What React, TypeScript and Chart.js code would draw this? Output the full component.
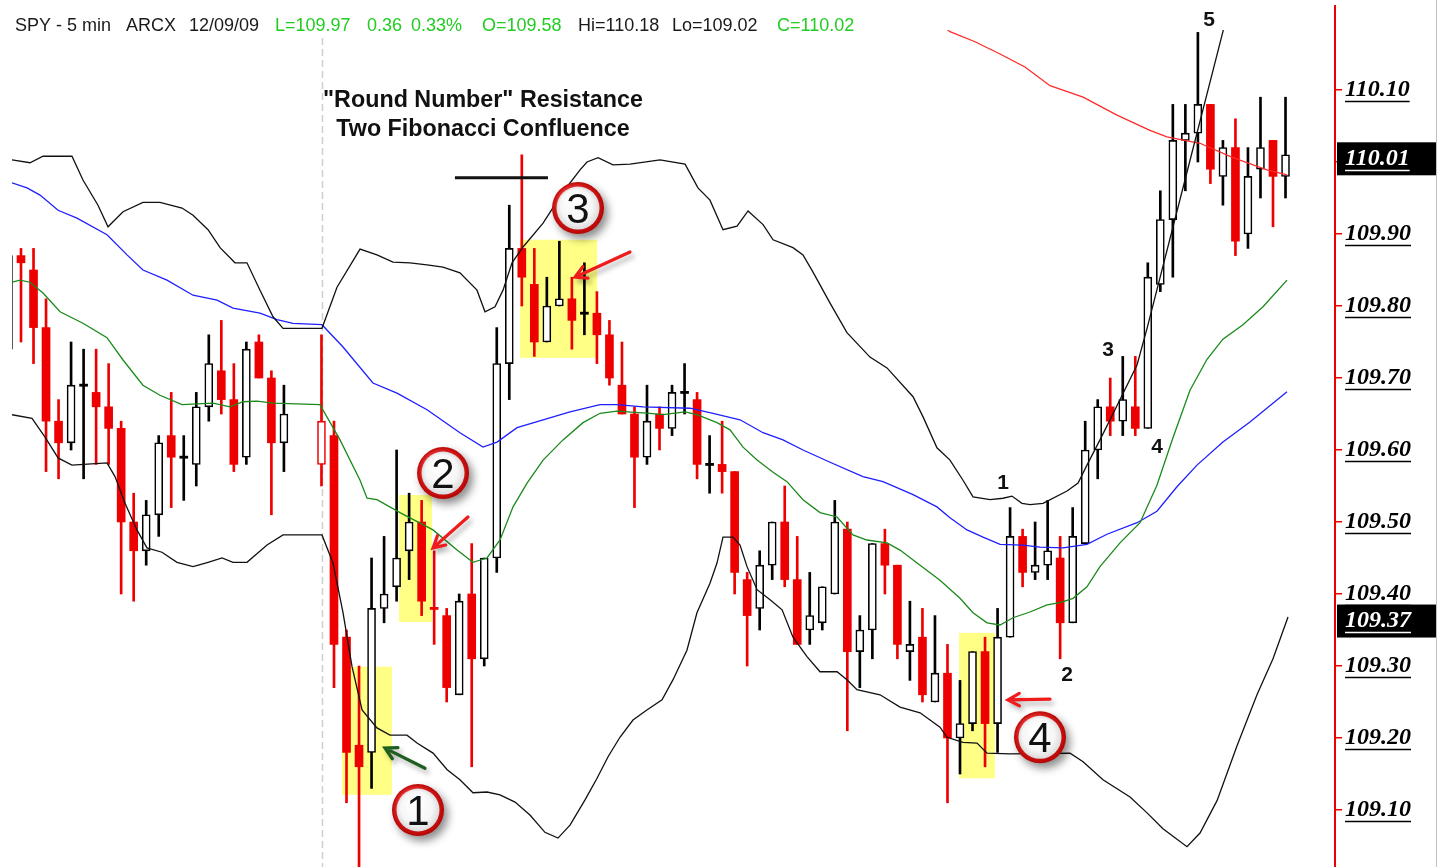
import React, { useEffect, useRef } from "react";
import { Chart, registerables } from "chart.js";

Chart.register(...registerables);

// ---------- candle data (slot index = array index, 5-min bars) ----------
const opens: (number | null)[] = [
  109.74, 109.87, 109.85, 109.77, 109.64, 109.61, 109.69, 109.68, 109.66, 109.63,
  109.50, 109.46, 109.51, 109.62, 109.59, 109.58, 109.66, 109.71, 109.67, 109.59,
  109.75, 109.70, 109.61, null, null, 109.58, 109.62, 109.34, 109.19, 109.18,
  109.38, 109.41, 109.46, 109.50, 109.38, 109.37, 109.26, 109.40, 109.31, 109.45,
  109.72, 109.88, 109.83, 109.75, 109.80, 109.81, 109.79, 109.79, 109.76, 109.69,
  109.65, 109.59, 109.65, 109.63, 109.68, 109.67, 109.58, 109.58, 109.57, 109.42,
  109.38, 109.44, 109.50, 109.42, 109.35, 109.36, 109.40, 109.49, 109.32, 109.35,
  109.47, 109.44, 109.32, 109.34, 109.25, 109.29, 109.20, 109.22, 109.32, 109.22,
  109.34, 109.48, 109.43, 109.44, 109.45, 109.36, 109.47, 109.60, 109.66, 109.64,
  109.66, 109.63, 109.83, 109.92, 110.03, 110.04, 110.08, 109.98, 110.02, 109.90,
  109.99, 110.03, 109.98,
];
const highs: (number | null)[] = [
  109.87, 109.88, 109.88, 109.81, 109.67, 109.75, 109.74, 109.74, 109.72, 109.64,
  109.54, 109.53, 109.62, 109.68, 109.62, 109.68, 109.76, 109.78, 109.72, 109.75,
  109.76, 109.71, 109.69, null, null, 109.76, 109.64, 109.35, 109.30, 109.45,
  109.48, 109.60, 109.54, 109.53, 109.46, 109.38, 109.40, 109.47, 109.45, 109.77,
  109.94, 110.01, 109.88, 109.84, 109.89, 109.84, 109.86, 109.82, 109.78, 109.75,
  109.66, 109.69, 109.66, 109.69, 109.72, 109.68, 109.62, 109.64, 109.57, 109.43,
  109.46, 109.50, 109.55, 109.48, 109.43, 109.41, 109.53, 109.50, 109.37, 109.47,
  109.49, 109.44, 109.39, 109.38, 109.37, 109.33, 109.28, 109.32, 109.34, 109.38,
  109.52, 109.49, 109.50, 109.53, 109.48, 109.52, 109.64, 109.67, 109.70, 109.73,
  109.73, 109.86, 109.96, 110.08, 110.08, 110.18, 110.08, 110.03, 110.06, 110.02,
  110.09, 110.03, 110.09,
];
const lows: (number | null)[] = [
  109.74, 109.75, 109.72, 109.57, 109.56, 109.60, 109.56, 109.58, 109.58, 109.40,
  109.39, 109.44, 109.48, 109.52, 109.53, 109.55, 109.64, 109.65, 109.57, 109.58,
  109.70, 109.51, 109.57, null, null, 109.55, 109.27, 109.11, 109.02, 109.13,
  109.36, 109.39, 109.42, 109.37, 109.33, 109.25, 109.26, 109.16, 109.30, 109.43,
  109.67, 109.80, 109.73, 109.75, 109.80, 109.74, 109.76, 109.72, 109.69, 109.65,
  109.52, 109.58, 109.60, 109.62, 109.65, 109.56, 109.54, 109.54, 109.40, 109.30,
  109.35, 109.42, 109.41, 109.33, 109.33, 109.35, 109.40, 109.21, 109.27, 109.31,
  109.40, 109.31, 109.28, 109.25, 109.25, 109.11, 109.15, 109.21, 109.16, 109.18,
  109.34, 109.41, 109.42, 109.42, 109.31, 109.36, 109.47, 109.56, 109.62, 109.62,
  109.62, 109.63, 109.82, 109.84, 109.96, 110.00, 109.97, 109.94, 109.87, 109.88,
  109.95, 109.91, 109.95,
];
const closes: (number | null)[] = [
  109.87, 109.86, 109.77, 109.64, 109.61, 109.69, 109.69, 109.66, 109.63, 109.50,
  109.46, 109.51, 109.61, 109.59, 109.59, 109.66, 109.72, 109.67, 109.58, 109.74,
  109.70, 109.61, 109.65, null, null, 109.64, 109.33, 109.18, 109.16, 109.38,
  109.40, 109.45, 109.50, 109.39, 109.38, 109.27, 109.39, 109.31, 109.45, 109.72,
  109.88, 109.84, 109.75, 109.80, 109.81, 109.78, 109.79, 109.76, 109.70, 109.65,
  109.59, 109.64, 109.63, 109.68, 109.68, 109.58, 109.58, 109.57, 109.43, 109.37,
  109.44, 109.50, 109.42, 109.33, 109.37, 109.41, 109.50, 109.32, 109.35, 109.47,
  109.44, 109.33, 109.33, 109.26, 109.29, 109.20, 109.22, 109.32, 109.22, 109.34,
  109.48, 109.43, 109.44, 109.46, 109.36, 109.48, 109.60, 109.66, 109.64, 109.67,
  109.63, 109.84, 109.92, 110.03, 110.04, 110.08, 109.99, 110.02, 109.89, 109.98,
  110.02, 109.98, 110.01,
];
// k = black (close above previous close), r = red (close below previous close)
const candleColors = [
  "krrrrkkrrr", "rkkrkkkrrk", "rrk--rrrrk", "kkkrrrkrkk", "krrkkrkrrr",
  "rkrkkrkrrr", "kkrrkkkrkk", "rrkrkrkkrk", "krkkrkkkrk", "rkkkkkrkrk", "krk",
].join("");

// ---------- indicator lines: [slot, price] ----------
const bbUpper = [
  [0.28, 110.003], [1.72, 109.999], [2.76, 110.008], [5.07, 110.008], [5.95, 109.975],
  [7.15, 109.94], [7.95, 109.91], [9.15, 109.931], [10.74, 109.944], [12.1, 109.944],
  [13.86, 109.936], [14.74, 109.926], [15.94, 109.906], [16.9, 109.881], [18.09, 109.86],
  [19.05, 109.86], [20.09, 109.822], [21.13, 109.785], [21.93, 109.769], [25.04, 109.769],
  [26.24, 109.826], [28.08, 109.879], [29.43, 109.871], [30.71, 109.861], [32.07, 109.86],
  [33.43, 109.857], [34.71, 109.854], [36.06, 109.846], [37.42, 109.822], [38.06, 109.792],
  [38.86, 109.799], [39.5, 109.822], [40.22, 109.86], [41.1, 109.882], [42.7, 109.915],
  [44.29, 109.958], [45.65, 109.989], [46.21, 110.0], [47.09, 110.006], [48.28, 109.996],
  [49.64, 109.997], [52.04, 110.003], [54.04, 109.997], [55.07, 109.964], [56.03, 109.947],
  [57.07, 109.906], [58.19, 109.911], [59.07, 109.932], [60.27, 109.913], [61.07, 109.892],
  [62.66, 109.881], [63.46, 109.871], [64.26, 109.847], [65.62, 109.804], [66.97, 109.763],
  [68.81, 109.729], [70.17, 109.714], [72.25, 109.674], [73.05, 109.646], [74.16, 109.603],
  [75.2, 109.586], [76.24, 109.558], [77.04, 109.535], [78.4, 109.531], [79.44, 109.533],
  [80.15, 109.536], [80.95, 109.526], [81.59, 109.524], [82.63, 109.526], [84.55, 109.543],
  [85.43, 109.554], [86.14, 109.579], [87.18, 109.614], [88.38, 109.656], [90.14, 109.718],
  [90.94, 109.769], [93.97, 109.975], [97.0, 110.181], [97.96, 110.246],
];
const bbLower = [
  [0.28, 109.649], [1.88, 109.644], [2.92, 109.618], [3.96, 109.589], [5.07, 109.579],
  [7.87, 109.582], [8.51, 109.563], [9.31, 109.526], [10.26, 109.489], [11.06, 109.464],
  [12.26, 109.458], [13.46, 109.444], [14.74, 109.438], [15.94, 109.444], [17.06, 109.45],
  [17.93, 109.444], [19.05, 109.444], [20.65, 109.468], [21.93, 109.482], [25.04, 109.482],
  [25.92, 109.443], [26.72, 109.374], [27.44, 109.299], [28.24, 109.239], [29.43, 109.214],
  [30.47, 109.204], [31.83, 109.204], [32.63, 109.193], [33.91, 109.179], [35.04, 109.156],
  [36.06, 109.142], [37.1, 109.124], [38.22, 109.125], [39.26, 109.121], [40.46, 109.111],
  [41.65, 109.093], [42.85, 109.069], [43.89, 109.061], [44.85, 109.079], [46.05, 109.114],
  [47.01, 109.144], [47.89, 109.174], [48.84, 109.201], [49.88, 109.225], [50.99, 109.239],
  [52.2, 109.253], [53.08, 109.281], [54.19, 109.322], [54.99, 109.374], [56.03, 109.415],
  [56.59, 109.443], [57.07, 109.479], [57.87, 109.479], [58.43, 109.468], [58.99, 109.438],
  [59.79, 109.406], [60.83, 109.392], [61.79, 109.378], [62.66, 109.34], [63.78, 109.313],
  [64.82, 109.292], [66.18, 109.292], [66.97, 109.281], [67.77, 109.267], [69.61, 109.26],
  [71.21, 109.243], [72.81, 109.235], [74.4, 109.215], [74.96, 109.201], [76.24, 109.194],
  [77.36, 109.193], [78.16, 109.179], [79.99, 109.178], [84.79, 109.179], [85.83, 109.167],
  [87.42, 109.142], [89.58, 109.118], [90.94, 109.096], [92.21, 109.074], [94.13, 109.049],
  [95.17, 109.068], [96.53, 109.113], [98.12, 109.189], [99.72, 109.26], [101.0, 109.31],
  [102.2, 109.368],
];
const maGreen = [
  [0.28, 109.833], [0.92, 109.836], [1.72, 109.833], [2.76, 109.818], [4.12, 109.792],
  [5.95, 109.776], [7.87, 109.756], [9.15, 109.725], [10.74, 109.69], [12.1, 109.676],
  [13.86, 109.663], [16.34, 109.665], [17.69, 109.66], [18.73, 109.667], [19.85, 109.668],
  [21.13, 109.665], [24.88, 109.663], [26.48, 109.614], [28.08, 109.558], [28.64, 109.533],
  [29.43, 109.531], [31.27, 109.513], [33.91, 109.489], [35.83, 109.461], [37.1, 109.444],
  [38.22, 109.45], [39.26, 109.475], [40.3, 109.521], [41.42, 109.554], [42.7, 109.586],
  [44.29, 109.614], [45.89, 109.638], [47.25, 109.651], [48.6, 109.654], [51.24, 109.651],
  [52.28, 109.649], [54.04, 109.653], [54.99, 109.649], [56.59, 109.638], [57.63, 109.628],
  [58.67, 109.604], [59.79, 109.586], [61.07, 109.569], [62.18, 109.556], [63.46, 109.531],
  [64.82, 109.513], [66.18, 109.507], [67.45, 109.482], [68.57, 109.475], [70.17, 109.471],
  [71.21, 109.461], [72.81, 109.44], [74.4, 109.419], [76.0, 109.394], [77.04, 109.374],
  [78.16, 109.36], [79.2, 109.357], [80.23, 109.367], [81.59, 109.375], [82.95, 109.385],
  [83.99, 109.388], [85.03, 109.394], [86.14, 109.41], [87.18, 109.438], [88.78, 109.471],
  [90.38, 109.499], [91.73, 109.551], [93.01, 109.617], [94.37, 109.683], [95.73, 109.726],
  [97.0, 109.754], [98.6, 109.774], [100.2, 109.799], [102.12, 109.836],
];
const maBlue = [
  [0.28, 109.971], [1.48, 109.964], [2.52, 109.954], [3.96, 109.933], [5.47, 109.922],
  [7.87, 109.899], [9.47, 109.871], [10.74, 109.85], [12.66, 109.836], [14.74, 109.815],
  [16.66, 109.808], [17.93, 109.797], [20.09, 109.79], [21.45, 109.781], [22.72, 109.776],
  [25.04, 109.774], [26.72, 109.743], [29.11, 109.693], [31.03, 109.679], [33.43, 109.656],
  [36.06, 109.624], [37.9, 109.604], [39.02, 109.611], [40.62, 109.631], [42.7, 109.642],
  [44.85, 109.653], [47.25, 109.663], [48.6, 109.663], [50.68, 109.66], [54.43, 109.658],
  [56.27, 109.651], [58.43, 109.642], [60.27, 109.624], [61.86, 109.614], [63.46, 109.6],
  [65.62, 109.583], [68.25, 109.563], [69.85, 109.556], [72.25, 109.538], [74.16, 109.521],
  [75.2, 109.506], [76.56, 109.489], [77.84, 109.479], [79.2, 109.469], [81.03, 109.468],
  [82.39, 109.465], [84.23, 109.464], [86.14, 109.469], [87.74, 109.483], [90.14, 109.499],
  [91.73, 109.515], [93.33, 109.549], [94.93, 109.579], [97.0, 109.611], [99.16, 109.639],
  [102.12, 109.681],
];
const maRed = [
  [74.4, 110.192], [75.2, 110.181], [77.2, 110.167], [79.2, 110.15], [81.19, 110.132],
  [83.19, 110.106], [85.83, 110.09], [88.54, 110.065], [91.17, 110.044], [92.53, 110.035],
  [95.17, 110.026], [97.8, 110.006], [100.52, 109.989], [102.12, 109.982],
];

// ---------- axis ----------
const yTicks = [109.1, 109.2, 109.3, 109.4, 109.5, 109.6, 109.7, 109.8, 109.9, 110.0, 110.1];
const yMin = 109.02083;
const yMax = 110.18333;
const xMin = 0.2812;
const xMax = 105.952;

// ---------- annotations (data coordinates) ----------
const sessionBreak = 25.04;
const highlightBoxes = [
  [26.64, 30.63, 109.121, 109.299],
  [31.19, 33.83, 109.361, 109.5375],
  [40.86, 47.01, 109.728, 109.892],
  [75.92, 78.79, 109.144, 109.346],
];
const badges: [number, number, string][] = [
  [32.71, 109.1, "1"],
  [34.71, 109.568, "2"],
  [45.49, 109.936, "3"],
  [82.39, 109.201, "4"],
];
const arrows: [number, number, number, number, string][] = [
  [33.27, 109.158, 30.07, 109.186, "#1e5e1e"],
  [36.7, 109.507, 33.91, 109.464, "#ee1c1c"],
  [49.64, 109.875, 45.25, 109.84, "#ee1c1c"],
  [83.19, 109.254, 79.83, 109.253, "#ee1c1c"],
];
const waveLabels: [number, number, string][] = [
  [79.44, 109.554, "1"],
  [84.55, 109.2875, "2"],
  [87.82, 109.739, "3"],
  [91.74, 109.604, "4"],
  [95.89, 110.197, "5"],
];
const resistanceLine = [35.66, 43.09, 109.978];
const titleLines: [string, number, number][] = [
  ['"Round Number" Resistance', 37.9, 110.0764],
  ["Two Fibonacci Confluence", 37.9, 110.0361],
];
const headerParts: [string, number, string][] = [
  ["SPY - 5 min", 15, "#1a1a1a"],
  ["ARCX", 126, "#1a1a1a"],
  ["12/09/09", 189, "#1a1a1a"],
  ["L=109.97", 275, "#22cc22"],
  ["0.36", 367, "#22cc22"],
  ["0.33%", 411, "#22cc22"],
  ["O=109.58", 482, "#22cc22"],
  ["Hi=110.18", 578, "#1a1a1a"],
  ["Lo=109.02", 672, "#1a1a1a"],
  ["C=110.02", 777, "#22cc22"],
];

const RED = "#ee0000";
const BLACK = "#000000";
const SANS = '"Liberation Sans", Arial, sans-serif';
const SERIF = '"Liberation Serif", "Times New Roman", serif';
const TICK_SIZE = 24;

function toXY(pts: number[][]) {
  return pts.map(([s, p]) => ({ x: s, y: p }));
}

function drawArrow(ctx: CanvasRenderingContext2D, x1: number, y1: number, x2: number, y2: number, color: string) {
  const ang = Math.atan2(y2 - y1, x2 - x1);
  const len = 13;
  ctx.save();
  ctx.shadowColor = "rgba(0,0,0,0.3)";
  ctx.shadowBlur = 5;
  ctx.shadowOffsetX = 3;
  ctx.shadowOffsetY = 4;
  ctx.strokeStyle = color;
  ctx.lineWidth = 3.2;
  ctx.lineCap = "round";
  ctx.beginPath();
  ctx.moveTo(x1, y1);
  ctx.lineTo(x2, y2);
  ctx.moveTo(x2 + len * Math.cos(ang + Math.PI - 0.5), y2 + len * Math.sin(ang + Math.PI - 0.5));
  ctx.lineTo(x2, y2);
  ctx.lineTo(x2 + len * Math.cos(ang + Math.PI + 0.5), y2 + len * Math.sin(ang + Math.PI + 0.5));
  ctx.stroke();
  ctx.restore();
}

function drawBadge(ctx: CanvasRenderingContext2D, cx: number, cy: number, label: string) {
  ctx.save();
  ctx.shadowColor = "rgba(0,0,0,0.45)";
  ctx.shadowBlur = 9;
  ctx.shadowOffsetX = 4;
  ctx.shadowOffsetY = 5;
  const g = ctx.createRadialGradient(cx - 8, cy - 10, 3, cx, cy, 27);
  g.addColorStop(0, "#ff9a90");
  g.addColorStop(0.55, "#e83030");
  g.addColorStop(1, "#b30000");
  ctx.beginPath();
  ctx.arc(cx, cy, 26, 0, Math.PI * 2);
  ctx.fillStyle = g;
  ctx.fill();
  ctx.restore();
  ctx.save();
  const g2 = ctx.createRadialGradient(cx - 5, cy - 9, 2, cx, cy, 22);
  g2.addColorStop(0, "#ffffff");
  g2.addColorStop(0.7, "#f6f6f6");
  g2.addColorStop(1, "#d9d9d9");
  ctx.beginPath();
  ctx.arc(cx, cy, 21.5, 0, Math.PI * 2);
  ctx.fillStyle = g2;
  ctx.fill();
  ctx.fillStyle = "#111";
  ctx.font = `42px ${SANS}`;
  ctx.textAlign = "center";
  ctx.textBaseline = "alphabetic";
  ctx.fillText(label, cx, cy + 15);
  ctx.restore();
}

const annotationPlugin = {
  id: "tradeAnnotations",
  beforeDatasetsDraw(chart: any) {
    const { ctx, chartArea: a, scales } = chart;
    const x = scales.x;
    const y = scales.y;
    ctx.save();
    ctx.beginPath();
    ctx.rect(a.left, a.top, a.right - a.left, a.bottom - a.top);
    ctx.clip();
    // session separator
    const sx = Math.round(x.getPixelForValue(sessionBreak)) + 0.5;
    ctx.strokeStyle = "#cfcfcf";
    ctx.lineWidth = 1.5;
    ctx.setLineDash([7, 4]);
    ctx.beginPath();
    ctx.moveTo(sx, a.top + 8);
    ctx.lineTo(sx, a.bottom);
    ctx.stroke();
    ctx.setLineDash([]);
    // highlight boxes
    ctx.fillStyle = "#ffff85";
    for (const [s0, s1, p0, p1] of highlightBoxes) {
      const x0 = x.getPixelForValue(s0);
      const x1 = x.getPixelForValue(s1);
      const y0 = y.getPixelForValue(p1);
      const y1 = y.getPixelForValue(p0);
      ctx.fillRect(x0, y0, x1 - x0, y1 - y0);
    }
    ctx.restore();
  },
  afterDraw(chart: any) {
    const { ctx, chartArea: a, scales } = chart;
    const x = scales.x;
    const y = scales.y;
    const px = (s: number) => x.getPixelForValue(s);
    const py = (p: number) => y.getPixelForValue(p);
    ctx.save();

    // header
    ctx.font = `18px ${SANS}`;
    ctx.textBaseline = "alphabetic";
    ctx.textAlign = "left";
    for (const [t, hx, c] of headerParts) {
      ctx.fillStyle = c;
      ctx.fillText(t, hx, 31);
    }

    // titles
    ctx.font = `bold 23.3px ${SANS}`;
    ctx.fillStyle = "#111";
    ctx.textAlign = "center";
    for (const [t, s, p] of titleLines) ctx.fillText(t, px(s), py(p));

    // resistance line
    ctx.strokeStyle = "#111";
    ctx.lineWidth = 3;
    ctx.beginPath();
    ctx.moveTo(px(resistanceLine[0]), py(resistanceLine[2]));
    ctx.lineTo(px(resistanceLine[1]), py(resistanceLine[2]));
    ctx.stroke();

    // arrows
    for (const [s1, p1, s2, p2, c] of arrows) drawArrow(ctx, px(s1), py(p1), px(s2), py(p2), c);

    // badges
    for (const [s, p, l] of badges) drawBadge(ctx, px(s), py(p), l);

    // wave labels
    ctx.font = `bold 21px ${SANS}`;
    ctx.fillStyle = "#111";
    ctx.textAlign = "center";
    ctx.textBaseline = "middle";
    for (const [s, p, l] of waveLabels) ctx.fillText(l, px(s), py(p));

    // axis line extension above chart area
    ctx.strokeStyle = RED;
    ctx.lineWidth = 2;
    ctx.beginPath();
    ctx.moveTo(a.right, 5);
    ctx.lineTo(a.right, a.top + 1);
    ctx.stroke();

    // underline tick labels
    ctx.font = `italic bold ${TICK_SIZE}px ${SERIF}`;
    ctx.strokeStyle = "#000";
    ctx.lineWidth = 1.5;
    const lx = a.right + 10;
    for (const v of yTicks) {
      const w = ctx.measureText(v.toFixed(2)).width;
      const yy = Math.round(py(v)) + 11.5;
      ctx.beginPath();
      ctx.moveTo(lx, yy);
      ctx.lineTo(lx + w, yy);
      ctx.stroke();
    }

    // price markers
    const markers = [closes[closes.length - 1] as number, bbLower[bbLower.length - 1][1]];
    for (const v of markers) {
      const cy = py(v) + 4;
      ctx.fillStyle = "#000";
      ctx.fillRect(a.right + 2, cy - 16.5, 1437 - a.right - 2, 33);
      const label = v.toFixed(2);
      ctx.fillStyle = "#fff";
      ctx.textAlign = "left";
      ctx.textBaseline = "middle";
      ctx.fillText(label, lx, cy);
      const w = ctx.measureText(label).width;
      ctx.strokeStyle = "#fff";
      ctx.beginPath();
      ctx.moveTo(lx, Math.round(cy) + 11.5);
      ctx.lineTo(lx + w, Math.round(cy) + 11.5);
      ctx.stroke();
    }

    // right frame edge
    ctx.strokeStyle = "#c0c0c0";
    ctx.lineWidth = 1;
    ctx.beginPath();
    ctx.moveTo(1436.5, 0);
    ctx.lineTo(1436.5, 867);
    ctx.stroke();

    ctx.restore();
  },
};

export default function App() {
  const ref = useRef<HTMLCanvasElement>(null);

  useEffect(() => {
    const canvas = ref.current;
    if (!canvas) return;

    const idx = opens.map((_, i) => i).filter((i) => opens[i] != null);
    const isDoji = (i: number) => Math.abs((closes[i] as number) - (opens[i] as number)) < 0.005;
    const colorOf = (i: number) => (candleColors[i] === "r" ? RED : BLACK);

    const wickData = idx.map((i) => ({ x: i, y: [lows[i] as number, highs[i] as number] }));
    const bodyData = idx.map((i) => {
      const o = opens[i] as number;
      const c = closes[i] as number;
      return { x: i, y: isDoji(i) ? [o - 0.0015, o + 0.0015] : [o, c] };
    });
    const wickColors = idx.map(colorOf);
    const bodyBg = idx.map((i) =>
      isDoji(i) ? colorOf(i) : (closes[i] as number) > (opens[i] as number) ? "#ffffff" : colorOf(i)
    );
    const bodyBorderW = idx.map((i) =>
      !isDoji(i) && (closes[i] as number) > (opens[i] as number) ? 1.6 : 0
    );

    const lineDs = (data: number[][], color: string, width: number) => ({
      type: "line" as const,
      data: toXY(data),
      borderColor: color,
      borderWidth: width,
      pointRadius: 0,
      tension: 0,
      fill: false,
      order: 0,
    });

    const chart = new Chart(canvas, {
      type: "bar",
      data: {
        datasets: [
          lineDs(bbUpper, "#111111", 1.3),
          lineDs(bbLower, "#111111", 1.3),
          lineDs(maGreen, "#1a8a1a", 1.3),
          lineDs(maBlue, "#1f1fff", 1.3),
          lineDs(maRed, "#ff2a2a", 1.3),
          {
            type: "bar",
            data: bodyData as any,
            backgroundColor: bodyBg,
            borderColor: wickColors,
            borderWidth: bodyBorderW,
            borderSkipped: false,
            barThickness: 8,
            grouped: false,
            order: 1,
          } as any,
          {
            type: "bar",
            data: wickData as any,
            backgroundColor: wickColors,
            borderWidth: 0,
            barThickness: 2,
            grouped: false,
            order: 2,
          } as any,
        ],
      },
      options: {
        responsive: false,
        animation: false,
        layout: { padding: { top: 30, left: 12, right: 0, bottom: 0 } },
        plugins: {
          legend: { display: false },
          tooltip: { enabled: false },
          title: { display: false },
        },
        scales: {
          x: { type: "linear", min: xMin, max: xMax, offset: false, display: false },
          y: {
            type: "linear",
            position: "right",
            min: yMin,
            max: yMax,
            beginAtZero: false,
            afterBuildTicks: (s: any) => {
              s.ticks = yTicks.map((v) => ({ value: v }));
            },
            afterFit: (s: any) => {
              s.width = 102;
              s.paddingTop = 0;
              s.paddingBottom = 0;
            },
            ticks: {
              callback: (v: any) => Number(v).toFixed(2),
              color: "#000",
              padding: 3,
              font: { family: SERIF, size: TICK_SIZE, style: "italic", weight: "bold" },
            },
            grid: { drawOnChartArea: false, color: RED, lineWidth: 1.5, tickLength: 7 },
            border: { color: RED, width: 2 },
          },
        },
      } as any,
      plugins: [annotationPlugin],
    });

    return () => chart.destroy();
  }, []);

  return (
    <div style={{ position: "fixed", left: 0, top: 0, width: 1437, height: 867, background: "#fff" }}>
      <canvas ref={ref} width={1437} height={867} style={{ display: "block" }} />
    </div>
  );
}
